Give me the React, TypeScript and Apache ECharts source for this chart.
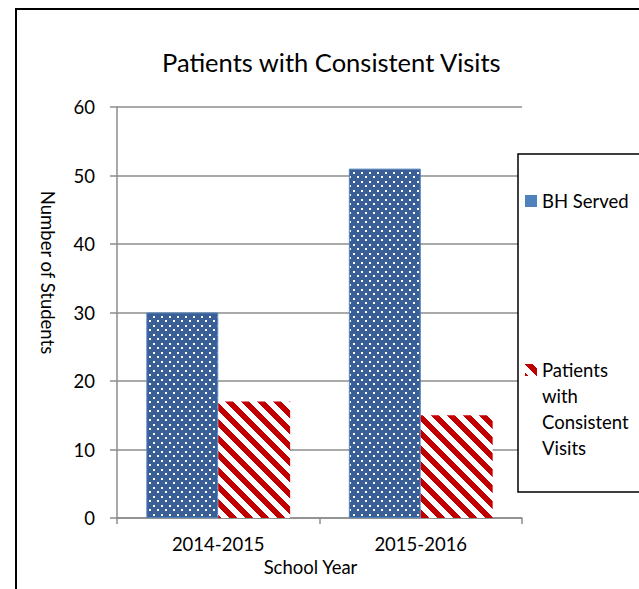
import React, { useEffect, useRef } from "react";
import * as echarts from "echarts";

const categories = ["2014-2015", "2015-2016"];
const bhServed = [30, 51];
const consistentVisits = [17, 15];
const seriesNames = ["BH Served", "Patients with Consistent Visits"];
const legendLines = ["Patients", "with", "Consistent", "Visits"];
const yTicks = { min: 0, max: 60, interval: 10 };

const BLUE = "#3a5e96";
const BLUE_LIGHT = "#4f81bd";
const RED = "#c00000";
const GRID = "#8c8c8c";
const FONT = "Lato";

function makeDots(): HTMLCanvasElement {
  const c = document.createElement("canvas");
  c.width = 8;
  c.height = 9;
  const g = c.getContext("2d")!;
  g.fillStyle = BLUE;
  g.fillRect(0, 0, 8, 9);
  g.fillStyle = "#ffffff";
  g.fillRect(1, 1, 2, 2);
  g.fillRect(5, 5, 2, 2);
  return c;
}

function makeStripes(): HTMLCanvasElement {
  const n = 16;
  const c = document.createElement("canvas");
  c.width = n;
  c.height = n;
  const g = c.getContext("2d")!;
  g.fillStyle = "#ffffff";
  g.fillRect(0, 0, n, n);
  g.fillStyle = RED;
  for (let y = 0; y < n; y++) {
    for (let x = 0; x < n; x++) {
      if ((((x - y) % n) + n) % n < 8) g.fillRect(x, y, 1, 1);
    }
  }
  return c;
}

export default function App() {
  const ref = useRef<HTMLDivElement>(null);
  useEffect(() => {
    if (!ref.current) return;
    const chart = echarts.init(ref.current, null, { renderer: "svg" });
    const dots = makeDots();
    const stripes = makeStripes();
    chart.setOption({
      animation: false,
      backgroundColor: "#ffffff",
      textStyle: { fontFamily: FONT, color: "#000" },
      title: {
        text: "Patients with Consistent Visits",
        left: 162,
        top: 49,
        padding: 0,
        textStyle: { fontFamily: FONT, fontSize: 25.5, fontWeight: "normal", color: "#000" },
      },
      grid: { left: 117, right: 117, top: 107, bottom: 71, containLabel: false },
      legend: {
        orient: "vertical",
        left: 525,
        top: 188,
        padding: 0,
        itemGap: 143,
        itemWidth: 12,
        itemHeight: 12,
        icon: "rect",
        selectedMode: false,
        z: 10,
        textStyle: { fontFamily: FONT, fontSize: 18.5, color: "#000", lineHeight: 26 },
        formatter: (name: string) => (name === seriesNames[1] ? legendLines[0] : name),
        data: [
          { name: seriesNames[0], itemStyle: { color: BLUE_LIGHT, borderWidth: 0 } },
          { name: seriesNames[1] },
        ],
      },
      graphic: [
        {
          type: "rect",
          z: 1,
          shape: { x: 16, y: 9, width: 700, height: 700 },
          style: { fill: "none", stroke: "#000", lineWidth: 2 },
        },
        {
          type: "rect",
          z: 1,
          shape: { x: 518, y: 154, width: 200, height: 338 },
          style: { fill: "#ffffff", stroke: "#000", lineWidth: 1.5 },
        },
        {
          type: "text",
          z: 11,
          x: 542,
          y: 383,
          style: {
            text: legendLines.slice(1).join("\n"),
            fontFamily: FONT,
            fontSize: 18.5,
            lineHeight: 26,
            fill: "#000",
            verticalAlign: "top",
            align: "left",
          },
        },
      ],
      xAxis: {
        type: "category",
        data: categories,
        name: "School Year",
        nameLocation: "middle",
        nameGap: 38,
        nameTextStyle: { fontFamily: FONT, fontSize: 18.5, color: "#000", padding: [0, 18, 0, 0] },
        axisLine: { show: true, lineStyle: { color: GRID, width: 1.5 } },
        axisTick: { show: true, length: 6, interval: 0, lineStyle: { color: GRID, width: 1.5 } },
        axisLabel: { fontFamily: FONT, fontSize: 18.5, color: "#000", margin: 16, interval: 0 },
      },
      yAxis: {
        type: "value",
        min: yTicks.min,
        max: yTicks.max,
        interval: yTicks.interval,
        name: "Number of Students",
        nameLocation: "middle",
        nameRotate: -90,
        nameGap: 60,
        nameTextStyle: { fontFamily: FONT, fontSize: 18.5, color: "#000", padding: [0, 80, 0, 0] },
        axisLine: { show: true, lineStyle: { color: GRID, width: 1.5 } },
        axisTick: { show: true, length: 7, lineStyle: { color: GRID, width: 1.5 } },
        axisLabel: { fontFamily: FONT, fontSize: 18.5, color: "#000", margin: 22 },
        splitLine: { show: true, lineStyle: { color: GRID, width: 1.5 } },
      },
      series: [
        {
          name: seriesNames[0],
          type: "bar",
          data: bhServed,
          barGap: "0%",
          barCategoryGap: "29%",
          itemStyle: {
            color: { image: dots, repeat: "repeat" },
            borderColor: BLUE_LIGHT,
            borderWidth: 1,
          },
        },
        {
          name: seriesNames[1],
          type: "bar",
          data: consistentVisits,
          barGap: "0%",
          barCategoryGap: "29%",
          itemStyle: {
            color: { image: stripes, repeat: "repeat" },
          },
        },
      ],
    });
    return () => chart.dispose();
  }, []);
  return (
    <div
      ref={ref}
      style={{ position: "absolute", left: 0, top: 0, width: 639, height: 589, background: "#fff" }}
    />
  );
}
